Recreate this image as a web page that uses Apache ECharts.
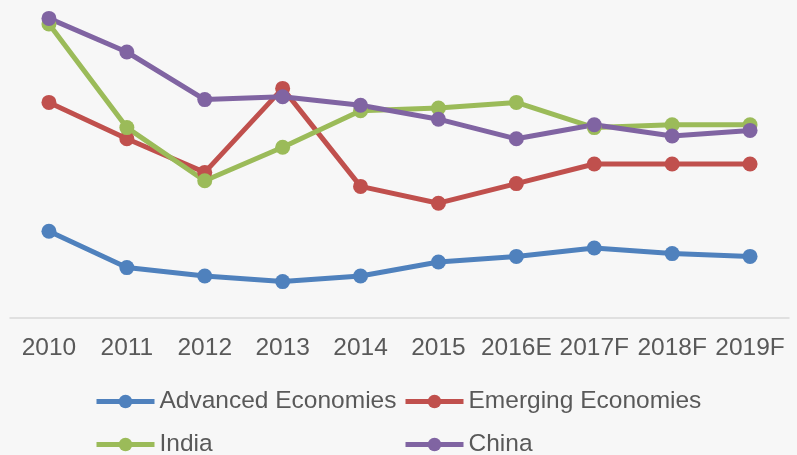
<!DOCTYPE html>
<html>
<head>
<meta charset="utf-8">
<script src="https://cdn.jsdelivr.net/npm/echarts@6/dist/echarts.min.js"></script>
<style>
  html, body { margin: 0; padding: 0; background: #f7f7f7; }
  #chart { width: 797px; height: 455px; }
</style>
</head>
<body>
<div id="chart"></div>
<script>
// categories and series values
var years = ['2010', '2011', '2012', '2013', '2014', '2015', '2016E', '2017F', '2018F', '2019F'];
var advanced = [3.1, 1.8, 1.5, 1.3, 1.5, 2.0, 2.2, 2.5, 2.3, 2.2];
var emerging = [7.7, 6.4, 5.2, 8.2, 4.7, 4.1, 4.8, 5.5, 5.5, 5.5];
var india    = [10.5, 6.8, 4.9, 6.1, 7.4, 7.5, 7.7, 6.8, 6.9, 6.9];
var china    = [10.7, 9.5, 7.8, 7.9, 7.6, 7.1, 6.4, 6.9, 6.5, 6.7];

var names = ['Advanced Economies', 'Emerging Economies', 'India', 'China'];
var colors = ['#4F81BD', '#C0504D', '#9BBB59', '#8064A2'];
var values = [advanced, emerging, india, china];

var chart = echarts.init(document.getElementById('chart'));

function legendAt(name, left, top) {
  return {
    data: [name],
    left: left,
    top: top,
    padding: 0,
    itemWidth: 58,
    itemHeight: 17,
    itemGap: 0,
    lineStyle: { width: 5 },
    textStyle: {
      color: '#595959',
      fontFamily: 'Liberation Sans, Arial, sans-serif',
      fontSize: 24.5
    }
  };
}

var series = [];
for (var i = 0; i < names.length; i++) {
  series.push({
    name: names[i],
    type: 'line',
    data: values[i],
    symbol: 'circle',
    symbolSize: 15,
    color: colors[i],
    lineStyle: { width: 5, color: colors[i] },
    itemStyle: { color: colors[i] },
    emphasis: { disabled: true },
    animation: false
  });
}

var option = {
  backgroundColor: '#f7f7f7',
  animation: false,
  grid: { left: 10, right: 8, top: 10, bottom: 137 },
  legend: [
    legendAt(names[0], 94, 389),
    legendAt(names[1], 403, 389),
    legendAt(names[2], 94, 432),
    legendAt(names[3], 403, 432)
  ],
  xAxis: {
    type: 'category',
    data: years,
    boundaryGap: true,
    axisLine: { show: true, lineStyle: { color: '#d9d9d9', width: 1.5 } },
    axisTick: { show: false },
    axisLabel: {
      interval: 0,
      margin: 18,
      color: '#595959',
      fontFamily: 'Liberation Sans, Arial, sans-serif',
      fontSize: 24.5
    }
  },
  yAxis: {
    type: 'value',
    min: 0,
    max: 11,
    show: false,
    splitLine: { show: false }
  },
  series: series
};

chart.setOption(option);
</script>
</body>
</html>
